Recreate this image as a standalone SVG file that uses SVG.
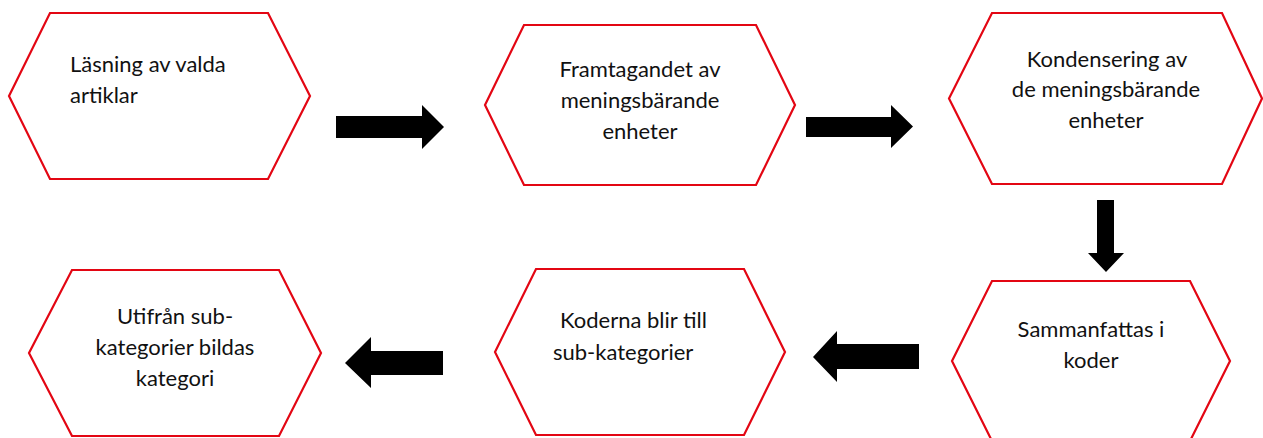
<svg xmlns="http://www.w3.org/2000/svg" width="1263" height="438" viewBox="0 0 1263 438">
  <style>
    .hex { fill: #ffffff; stroke: #e30613; stroke-width: 2.2; stroke-linejoin: miter; }
    .lbl { font-family: "Lato", "Liberation Sans", sans-serif; font-size: 22px; fill: #111111; }
    .c { text-anchor: middle; }
    .arr { fill: #000000; }
  </style>
  <rect width="1263" height="438" fill="#ffffff"/>
  <g id="node-1">
    <polygon class="hex" points="50,13 268,13 310,96 268,179 50,179 9,96"/>
    <text class="lbl" x="70" y="72">Läsning av valda</text>
    <text class="lbl" x="70" y="103">artiklar</text>
  </g>
  <g id="node-2">
    <polygon class="hex" points="524,25 756,25 795,105 756,185 524,185 485,105"/>
    <text class="lbl c" x="640" y="77">Framtagandet av</text>
    <text class="lbl c" x="640" y="108">meningsbärande</text>
    <text class="lbl c" x="640" y="139">enheter</text>
  </g>
  <g id="node-3">
    <polygon class="hex" points="992,13 1222,13 1262,98.5 1222,184 992,184 949,98.5"/>
    <text class="lbl c" x="1107" y="67">Kondensering av</text>
    <text class="lbl c" x="1106" y="97">de meningsbärande</text>
    <text class="lbl c" x="1106" y="128">enheter</text>
  </g>
  <g id="node-4">
    <polygon class="hex" points="992,281 1190,281 1230,361 1190,441 992,441 952,361"/>
    <text class="lbl c" x="1091" y="337">Sammanfattas i</text>
    <text class="lbl c" x="1091" y="368">koder</text>
  </g>
  <g id="node-5">
    <polygon class="hex" points="536,269 744,269 785,352 744,435 536,435 495,352"/>
    <text class="lbl" x="560" y="328">Koderna blir till</text>
    <text class="lbl" x="553" y="360">sub-kategorier</text>
  </g>
  <g id="node-6">
    <polygon class="hex" points="72,270 279,270 321,353 279,436 72,436 29,353"/>
    <text class="lbl c" x="175" y="324">Utifrån sub-</text>
    <text class="lbl c" x="175" y="355">kategorier bildas</text>
    <text class="lbl c" x="175" y="386">kategori</text>
  </g>
  <g id="connectors">
    <polygon class="arr" points="336,116 422,116 422,105 444,127 422,149 422,138 336,138"/>
    <polygon class="arr" points="806,117 891,117 891,105 913,126.5 891,148 891,137 806,137"/>
    <polygon class="arr" points="1097,200 1114,200 1114,253 1124,253 1106,272 1088,253 1097,253"/>
    <polygon class="arr" points="919,344 837,344 837,331 813,357 837,382 837,369 919,369"/>
    <polygon class="arr" points="443,351 371,351 371,337 345,363 371,388 371,375 443,375"/>
  </g>
</svg>
